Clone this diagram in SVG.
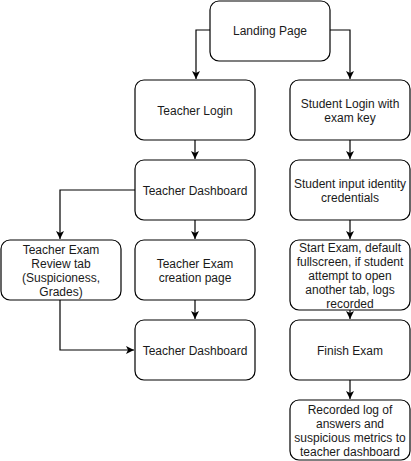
<svg xmlns="http://www.w3.org/2000/svg" width="411" height="461" viewBox="0 0 411 461">
<style>
.box{fill:#fff;stroke:#000;stroke-width:1.2}
.t{font-family:"Liberation Sans",Arial,Helvetica,sans-serif;font-size:12px;fill:#1a1a1a;text-anchor:middle}
.c{fill:none;stroke:#000;stroke-width:1.2}
</style>
<defs>
<marker id="a" markerUnits="userSpaceOnUse" markerWidth="10" markerHeight="10" refX="8" refY="4" orient="auto">
<path d="M0,0 L8,4 L0,8 L2,4 Z" fill="#000"/>
</marker>
</defs>
<rect width="411" height="461" fill="#fff"/>
<g id="connectors">
<path class="c" d="M210,30 H196 V79" marker-end="url(#a)"/>
<path class="c" d="M330,30 H350 V79" marker-end="url(#a)"/>
<path class="c" d="M195,140 V159" marker-end="url(#a)"/>
<path class="c" d="M350,140 V159" marker-end="url(#a)"/>
<path class="c" d="M135,190 H60 V239" marker-end="url(#a)"/>
<path class="c" d="M195,220 V239" marker-end="url(#a)"/>
<path class="c" d="M350,220 V239" marker-end="url(#a)"/>
<path class="c" d="M195,300 V319" marker-end="url(#a)"/>
<path class="c" d="M60,300 V350 H134" marker-end="url(#a)"/>
<path class="c" d="M350,310 V319" marker-end="url(#a)"/>
<path class="c" d="M350,380 V399" marker-end="url(#a)"/>
</g>
<g id="landing"><rect class="box" x="210" y="1" width="120" height="60" rx="9"/><text class="t" x="270" y="35">Landing Page</text></g>
<g id="teacher-login"><rect class="box" x="135" y="80" width="120" height="60" rx="9"/><text class="t" x="195" y="115">Teacher Login</text></g>
<g id="student-login"><rect class="box" x="290" y="80" width="120" height="60" rx="9"/><text class="t" x="350" y="108">Student Login with</text><text class="t" x="350" y="122">exam key</text></g>
<g id="teacher-dashboard"><rect class="box" x="135" y="160" width="120" height="60" rx="9"/><text class="t" x="195" y="195">Teacher Dashboard</text></g>
<g id="student-input"><rect class="box" x="290" y="160" width="120" height="60" rx="9"/><text class="t" x="350" y="188">Student input identity</text><text class="t" x="350" y="202">credentials</text></g>
<g id="review-tab"><rect class="box" x="1" y="240" width="120" height="60" rx="9"/><text class="t" x="61" y="254">Teacher Exam</text><text class="t" x="61" y="268">Review tab</text><text class="t" x="61" y="282">(Suspicioness,</text><text class="t" x="61" y="296">Grades)</text></g>
<g id="exam-creation"><rect class="box" x="135" y="240" width="120" height="60" rx="9"/><text class="t" x="195" y="268">Teacher Exam</text><text class="t" x="195" y="282">creation page</text></g>
<g id="start-exam"><rect class="box" x="290" y="240" width="120" height="70" rx="9"/><text class="t" x="350" y="252">Start Exam, default</text><text class="t" x="350" y="266">fullscreen, if student</text><text class="t" x="350" y="280">attempt to open</text><text class="t" x="350" y="294">another tab, logs</text><text class="t" x="350" y="308">recorded</text></g>
<g id="teacher-dashboard-2"><rect class="box" x="135" y="320" width="120" height="60" rx="9"/><text class="t" x="195" y="355">Teacher Dashboard</text></g>
<g id="finish-exam"><rect class="box" x="290" y="320" width="120" height="60" rx="9"/><text class="t" x="350" y="355">Finish Exam</text></g>
<g id="recorded-log"><rect class="box" x="290" y="400" width="120" height="60" rx="9"/><text class="t" x="350" y="414">Recorded log of</text><text class="t" x="350" y="428">answers and</text><text class="t" x="350" y="442">suspicious metrics to</text><text class="t" x="350" y="456">teacher dashboard</text></g>
</svg>
